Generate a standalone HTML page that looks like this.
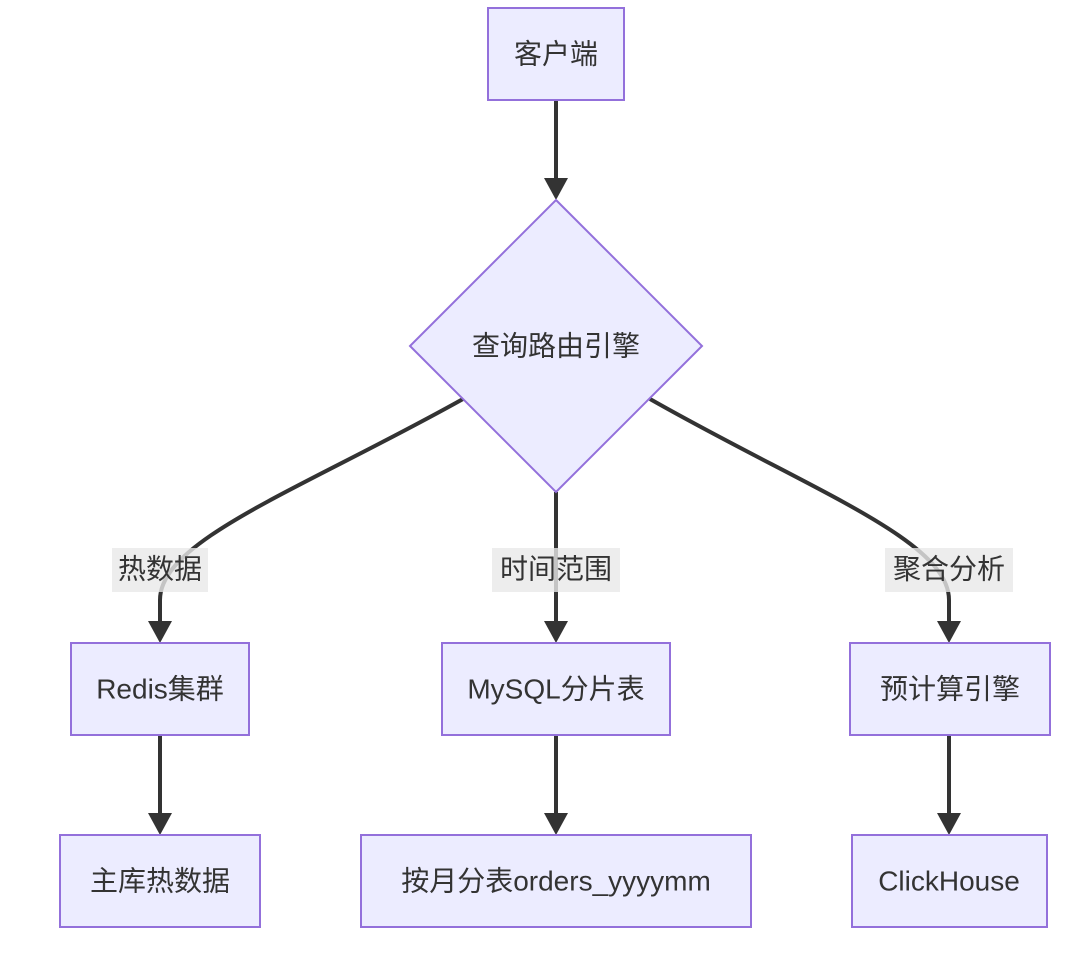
<!DOCTYPE html>
<html><head><meta charset="utf-8"><style>
html,body{margin:0;padding:0;background:#fff;}
svg{display:block}
text{font-family:"Liberation Sans","Noto Sans CJK SC",sans-serif;font-size:28px;fill:#333;text-anchor:middle;dominant-baseline:central}
.n{fill:#ECECFF;stroke:#9370DB;stroke-width:2}
.e{fill:none;stroke:#333;stroke-width:4}
.lb{fill:#e8e8e8;opacity:0.8}
</style></head><body>
<svg width="1090" height="956" viewBox="0 0 1090 956">
<defs><marker id="a" viewBox="0 0 10 10" refX="9" refY="5" markerWidth="6" markerHeight="6" orient="auto" markerUnits="userSpaceOnUse" style="overflow:visible">
<path d="M0,0 L10,5 L0,10 z" fill="#333" transform="scale(2.4)"/></marker></defs>
<!-- edges -->
<path class="e" d="M556,100 L556,180"/><path d="M544,178 L568,178 L556,200 z" fill="#333"/>
<path class="e" d="M463,399 C300,490 160,540 160,600 L160,622"/><path d="M148,621 L172,621 L160,643 z" fill="#333"/>
<path class="e" d="M556,492 L556,622"/><path d="M544,621 L568,621 L556,643 z" fill="#333"/>
<path class="e" d="M650,399 C810,490 949,540 949,600 L949,622"/><path d="M937,621 L961,621 L949,643 z" fill="#333"/>
<path class="e" d="M160,735 L160,814"/><path d="M148,813 L172,813 L160,835 z" fill="#333"/>
<path class="e" d="M556,735 L556,814"/><path d="M544,813 L568,813 L556,835 z" fill="#333"/>
<path class="e" d="M949,735 L949,814"/><path d="M937,813 L961,813 L949,835 z" fill="#333"/>
<!-- labels -->
<rect class="lb" x="112" y="548" width="96" height="44"/><text x="160" y="569">热数据</text>
<rect class="lb" x="492" y="548" width="128" height="44"/><text x="556" y="569">时间范围</text>
<rect class="lb" x="885" y="548" width="128" height="44"/><text x="949" y="569">聚合分析</text>
<!-- nodes -->
<rect class="n" x="488" y="8" width="136" height="92"/><text x="556" y="54">客户端</text>
<polygon class="n" points="556,200 702,346 556,492 410,346"/><text x="556" y="346">查询路由引擎</text>
<rect class="n" x="71" y="643" width="178" height="92"/><text x="160" y="689">Redis集群</text>
<rect class="n" x="442" y="643" width="228" height="92"/><text x="556" y="689">MySQL分片表</text>
<rect class="n" x="850" y="643" width="200" height="92"/><text x="950" y="689">预计算引擎</text>
<rect class="n" x="60" y="835" width="200" height="92"/><text x="160" y="881">主库热数据</text>
<rect class="n" x="361" y="835" width="390" height="92"/><text x="556" y="881">按月分表orders_yyyymm</text>
<rect class="n" x="852" y="835" width="195" height="92"/><text x="949" y="881">ClickHouse</text>
</svg>
</body></html>
